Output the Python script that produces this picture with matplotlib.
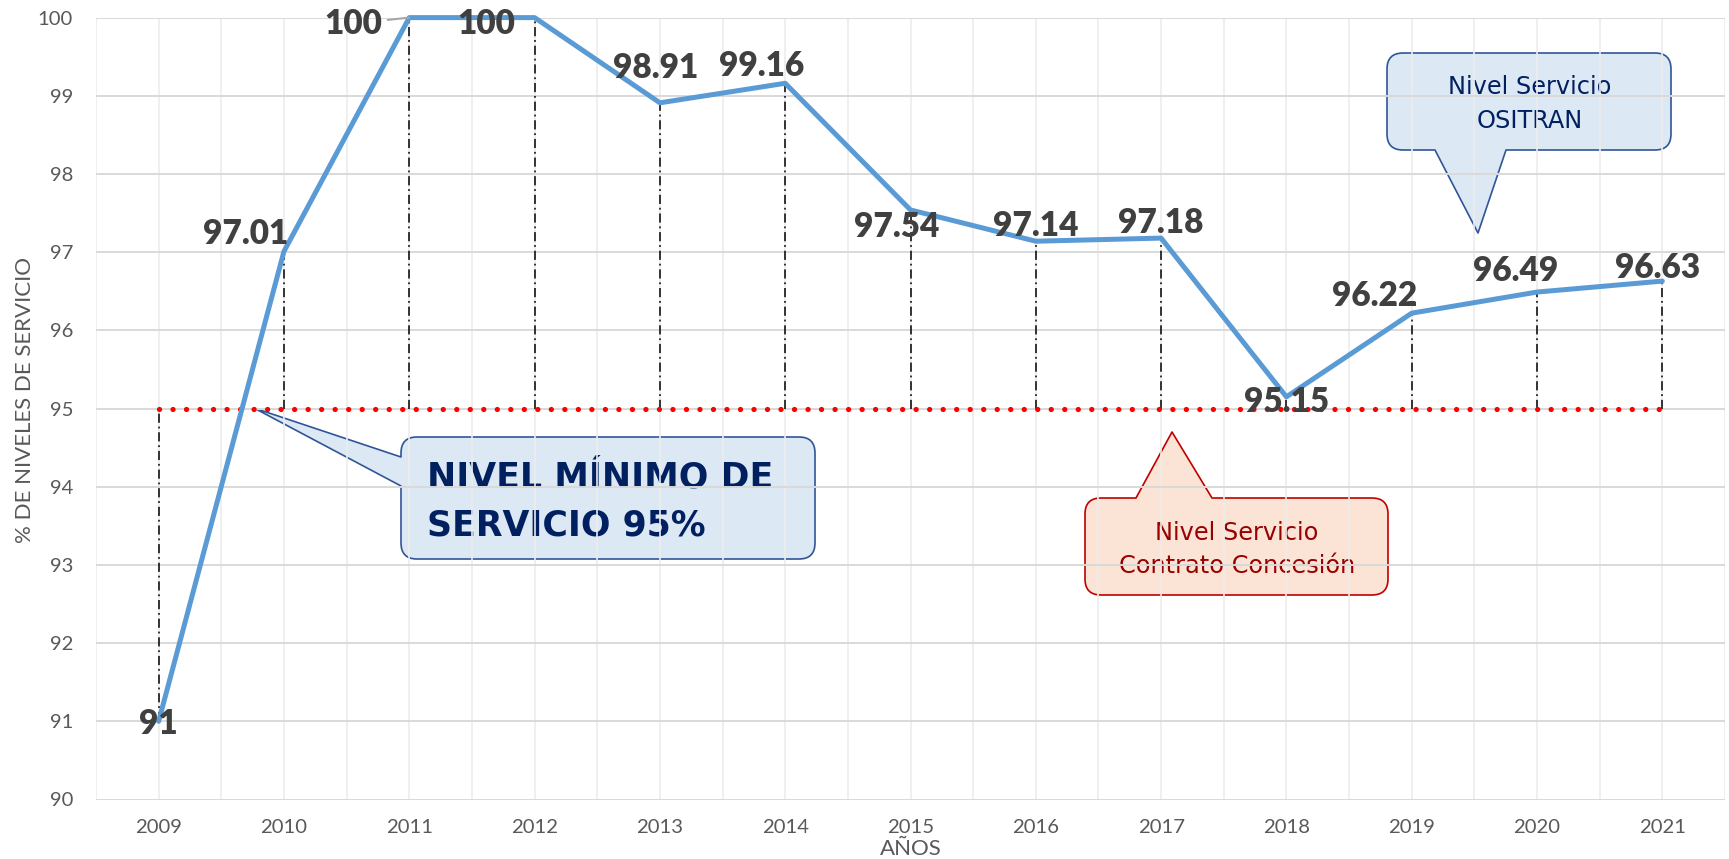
import matplotlib
matplotlib.use('Agg')
import matplotlib.pyplot as plt
from matplotlib.path import Path
from matplotlib.patches import PathPatch
import numpy as np

# ---------------- data ----------------
years = ['2009', '2010', '2011', '2012', '2013', '2014', '2015',
         '2016', '2017', '2018', '2019', '2020', '2021']
service = [91, 97.01, 100, 100, 98.91, 99.16, 97.54, 97.14, 97.18, 95.15, 96.22, 96.49, 96.63]
minimum = [95] * 13
value_labels = ['91', '97.01', '100', '100', '98.91', '99.16', '97.54',
                '97.14', '97.18', '95.15', '96.22', '96.49', '96.63']

# label centre offsets from the point, in pixels (dx right, dy down)
label_offsets_px = [(0, 1), (-38, -19), (-56, 4), (-48, 4), (-4, -37), (-24, -19),
                    (-14, 15), (0, -17), (0, -17), (0, 3), (-37, -19), (-21, -23.5), (-5, -15)]

plt.rcParams['font.family'] = ['Lato', 'DejaVu Sans']

W, H = 1729, 859
fig = plt.figure(figsize=(W / 100, H / 100), dpi=100)
ax = fig.add_axes([96 / W, 1 - 799.5 / H, 1629 / W, 781.9 / H])

x = np.arange(len(years))
ax.set_xlim(-0.5, len(years) - 0.5)
ax.set_ylim(90, 100)

# grid
ax.set_yticks(range(90, 101))
ax.set_xticks(x)
ax.set_xticks(np.arange(-0.5, len(years), 1.0), minor=True)
ax.set_xticklabels(years)
ax.set_axisbelow(True)
ax.yaxis.grid(True, color='#d9d9d9', lw=1.4)
ax.xaxis.grid(True, which='both', color='#ececec', lw=1.2)
for s in ax.spines.values():
    s.set_visible(False)
ax.tick_params(axis='both', which='both', length=0, labelsize=14.6, labelcolor='#595959')
ax.tick_params(axis='y', pad=16.5)
ax.tick_params(axis='x', pad=14)

# high-low lines
lo = np.minimum(service, minimum)
hi = np.maximum(service, minimum)
ax.vlines(x, lo, hi, colors='black', lw=1.1, linestyles=[(0, (6, 2.5, 1.2, 2.5))], zorder=2.5)

# minimum level (red dotted)
ax.plot(x, minimum, color='#ff0000', lw=3.8, linestyle=(0, (0.01, 2.55)),
        dash_capstyle='round', zorder=3, clip_on=False)

# service line
ax.plot(x, service, color='#5b9bd5', lw=3.6, solid_joinstyle='round',
        solid_capstyle='round', zorder=4, clip_on=False)

# data labels
P = 100 / 72.0
for i, (xv, v, t) in enumerate(zip(x, service, value_labels)):
    dx, dy = label_offsets_px[i]
    kw = dict(xy=(xv, v), xytext=(dx / P, -(dy + 12) / P), textcoords='offset points',
              ha='center', va='baseline', fontsize=24, fontweight='heavy',
              color='#404040', zorder=6, annotation_clip=False)
    if i == 2:
        kw['arrowprops'] = dict(arrowstyle='-', color='#a6a6a6', lw=1.5,
                                shrinkA=2, shrinkB=0)
    ax.annotate(t, **kw)

# axis titles
ax.set_ylabel('% DE NIVELES DE SERVICIO', fontsize=16, color='#595959')
ax.yaxis.label.set_verticalalignment('center')
ax.yaxis.set_label_coords((25 - 96) / 1629, (799.5 - 400) / 781.9)
ax.set_xlabel('AÑOS', fontsize=16, color='#595959')
ax.xaxis.label.set_verticalalignment('baseline')
ax.xaxis.set_label_coords(0.5, (799.5 - 855) / 781.9)


# ---------------- callouts (pixel geometry) ----------------
def fx(px):
    return px / W


def fy(py):
    return 1 - py / H


def bubble(x0, y0, x1, y1, r, side, a, b, tip, fc, ec):
    V, C = [], []

    def M(p):
        V.append(p); C.append(Path.MOVETO)

    def L(p):
        V.append(p); C.append(Path.LINETO)

    def Q(c, p):
        V.extend([c, p]); C.extend([Path.CURVE3, Path.CURVE3])

    M((x0 + r, y0))
    if side == 'top':
        L((a, y0)); L(tip); L((b, y0))
    L((x1 - r, y0)); Q((x1, y0), (x1, y0 + r))
    L((x1, y1 - r)); Q((x1, y1), (x1 - r, y1))
    if side == 'bottom':
        L((b, y1)); L(tip); L((a, y1))
    L((x0 + r, y1)); Q((x0, y1), (x0, y1 - r))
    if side == 'left':
        L((x0, b)); L(tip); L((x0, a))
    L((x0, y0 + r)); Q((x0, y0), (x0 + r, y0))
    V.append((x0 + r, y0)); C.append(Path.CLOSEPOLY)
    verts = [(fx(px), fy(py)) for px, py in V]
    patch = PathPatch(Path(verts, C), facecolor=fc, edgecolor=ec, lw=1.2,
                      transform=fig.transFigure, zorder=0.2, clip_on=False,
                      joinstyle='round')
    ax.add_patch(patch)


def ftext(px, py, s, **kw):
    ax.text(fx(px), fy(py), s, transform=fig.transFigure, zorder=0.3,
            clip_on=False, **kw)


# NIVEL MINIMO callout
bubble(401, 437, 815, 559, 16, 'left', 457, 486, (254, 408), '#dde8f5', '#2f5597')
ftext(427, 487, 'NIVEL MÍNIMO DE', family='DejaVu Sans', fontweight='bold',
      fontsize=25, color='#002060', ha='left', va='baseline')
ftext(427, 535, 'SERVICIO 95%', family='DejaVu Sans', fontweight='bold',
      fontsize=25, color='#002060', ha='left', va='baseline')

# Contract callout
bubble(1085, 498, 1388, 595, 16, 'top', 1136, 1212, (1172, 432), '#fbe3d6', '#c00000')
ftext(1237, 540, 'Nivel Servicio', family='DejaVu Sans', fontsize=17.3,
      color='#990000', ha='center', va='baseline')
ftext(1237, 573, 'Contrato Concesión', family='DejaVu Sans', fontsize=17.3,
      color='#990000', ha='center', va='baseline')

# OSITRAN callout
bubble(1387, 53, 1671, 150, 16, 'bottom', 1435, 1506, (1478, 233), '#dde8f5', '#2f5597')
ftext(1530, 94, 'Nivel Servicio', family='DejaVu Sans', fontsize=17.3,
      color='#002060', ha='center', va='baseline')
ftext(1530, 128, 'OSITRAN', family='DejaVu Sans', fontsize=17.3,
      color='#002060', ha='center', va='baseline')

fig.savefig('out.png', dpi=100)
